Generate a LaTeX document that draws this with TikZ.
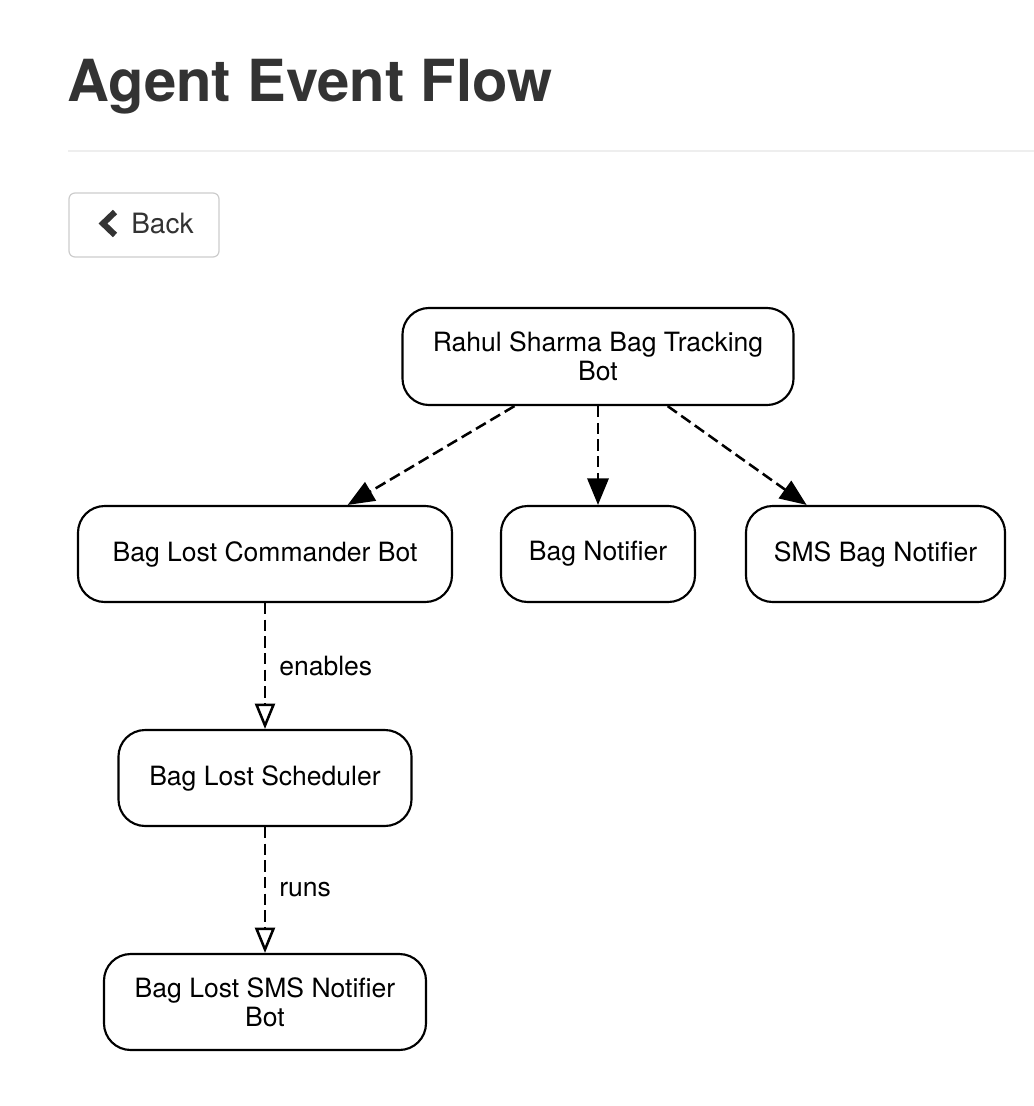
\documentclass[tikz,border=0pt]{standalone}
\usepackage{fontspec}
\setmainfont{TeX Gyre Heros}
\usetikzlibrary{arrows.meta}
\definecolor{titlegray}{HTML}{333333}
\definecolor{btnborder}{HTML}{CCCCCC}
\definecolor{rulegray}{HTML}{EEEEEE}

\begin{document}
\begin{tikzpicture}[x=0.75pt,y=0.75pt,yscale=-1,xscale=1,
  agentbox/.style={draw, line width=1.6pt, rounded corners=20pt, align=center, inner sep=0pt, font=\fontsize{19.9}{22}\selectfont},
  flowarrow/.style={line width=1.9pt, dash pattern=on 8.5pt off 4pt, -{Triangle[length=20pt,width=16pt]}},
  linkarrow/.style={line width=1.9pt, dash pattern=on 8.5pt off 4pt, -{Triangle[open,length=19pt,width=15pt]}},
  edgelabel/.style={inner sep=0pt, right=9.75pt, font=\fontsize{19.9}{22}\selectfont}
]
\useasboundingbox (0,0) rectangle (1034,1106);

% Text Node
\node [anchor=base west][inner sep=0pt][text=titlegray, font=\fontsize{43.5}{50}\selectfont\bfseries] (title) at (67,101) {Agent Event Flow};
%Straight Lines [rule]
\draw [color=rulegray, line width=1.2pt] (68,151) -- (1034,151) ;

%Shape: Button [back]
\node [draw=btnborder, line width=0.9pt, rounded corners=4.5pt, minimum width=112.5pt, minimum height=48pt] (backbtn) at (144,225) {};
%Shape: Chevron
\draw [color=titlegray, line width=4.6pt] (115,212) -- (103,223.5) -- (115,235) ;
% Text Node
\node [anchor=base west][inner sep=0pt][text=titlegray, font=\fontsize{21}{24}\selectfont] (backtext) at (131,233) {Back};

%Shape: Agent Boxes
\node [agentbox, minimum width=293.3pt, minimum height=72.8pt] (tracker) at (598,356.5) {Rahul Sharma Bag Tracking\\Bot};
\node [agentbox, minimum width=280.5pt, minimum height=72pt] (commander) at (265,554) {Bag Lost Commander Bot};
\node [agentbox, minimum width=145.5pt, minimum height=72pt] (notifier) at (598,554) {Bag Notifier};
\node [agentbox, minimum width=194.3pt, minimum height=72pt] (smsnotifier) at (875.5,554) {SMS Bag Notifier};
\node [agentbox, minimum width=219.8pt, minimum height=72pt] (scheduler) at (265,778) {Bag Lost Scheduler};
\node [agentbox, minimum width=241.5pt, minimum height=72pt] (smsbot) at (265,1002) {Bag Lost SMS Notifier\\Bot};

%Straight Lines [events]
\draw [flowarrow] (tracker) -- (commander) ;
\draw [flowarrow] (tracker) -- (notifier) ;
\draw [flowarrow] (tracker) -- (smsnotifier) ;
%Straight Lines [links]
\draw [linkarrow] (commander) -- node [edgelabel] (enableslabel) {enables} (scheduler) ;
\draw [linkarrow] (scheduler) -- node [edgelabel] (runslabel) {runs} (smsbot) ;

\end{tikzpicture}
\end{document}
